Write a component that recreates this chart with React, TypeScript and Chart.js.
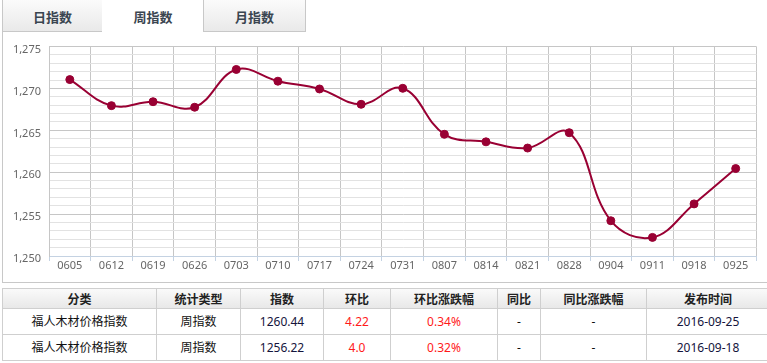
import React, { useEffect, useRef } from "react";
import { Chart, registerables } from "chart.js";

Chart.register(...registerables);

const categories = ["0605","0612","0619","0626","0703","0710","0717","0724","0731","0807","0814","0821","0828","0904","0911","0918","0925"];
const indexValues = [1271.06,1267.95,1268.42,1267.76,1272.27,1270.87,1269.94,1268.11,1270.02,1264.53,1263.63,1262.89,1264.72,1254.21,1252.22,1256.22,1260.44];
const yMin = 1250;
const yMax = 1275;

const tabLabels = ["日指数", "周指数", "月指数"];
const tableHeaders = ["分类", "统计类型", "指数", "环比", "环比涨跌幅", "同比", "同比涨跌幅", "发布时间"];
const rowCategory = ["福人木材价格指数", "福人木材价格指数"];
const rowType = ["周指数", "周指数"];
const rowIndex = ["1260.44", "1256.22"];
const rowChange = ["4.22", "4.0"];
const rowChangePct = ["0.34%", "0.32%"];
const rowYoY = ["-", "-"];
const rowYoYPct = ["-", "-"];
const rowDate = ["2016-09-25", "2016-09-18"];

const colEdges = [2, 157, 241, 324, 391, 498, 541, 647, 770];
const FONT = '"Noto Sans", "Noto Sans CJK SC", sans-serif';
const BORDER = "#cfcfcf";
const LINE = "#990033";

function ChartCanvas() {
  const ref = useRef<HTMLCanvasElement | null>(null);
  useEffect(() => {
    if (!ref.current) return;
    const chart = new Chart(ref.current, {
      type: "line",
      data: {
        labels: categories,
        datasets: [
          {
            data: indexValues,
            borderColor: LINE,
            backgroundColor: LINE,
            borderWidth: 2,
            tension: 0.4,
            pointRadius: 4,
            pointBorderWidth: 1,
            pointBackgroundColor: LINE,
            pointBorderColor: LINE,
            fill: false,
          },
        ],
      },
      options: {
        animation: false,
        responsive: false,
        maintainAspectRatio: false,
        layout: { padding: { top: 10, right: 10.5, left: 0, bottom: 0 } },
        plugins: { legend: { display: false }, tooltip: { enabled: false } },
        scales: {
          x: {
            type: "category",
            offset: true,
            grid: {
              offset: true,
              color: "#c6c6c6",
              drawTicks: true,
              tickLength: 5,
              tickColor: "#c4d2e2",
            },
            border: { color: "#c4d2e2", width: 1 },
            ticks: {
              color: "#666666",
              font: { family: FONT, size: 11 },
              padding: -2,
              maxRotation: 0,
              autoSkip: false,
            },
            afterFit: (s: any) => {
              s.height = 26;
            },
          },
          y: {
            min: yMin,
            max: yMax,
            grid: {
              drawTicks: false,
              color: (ctx: any) =>
                ctx.tick && ctx.tick.value % 5 === 0 ? "#c6c6c6" : "#e2e2e2",
            },
            border: { color: "#c6c6c6", width: 1 },
            ticks: {
              stepSize: 1,
              autoSkip: false,
              padding: 8,
              labelOffset: 3,
              color: "#666666",
              font: { family: FONT, size: 11 },
              callback: (v: any) =>
                Number(v) % 5 === 0 ? Number(v).toLocaleString("en-US") : "",
            },
            afterFit: (s: any) => {
              s.width = 49;
            },
          },
        },
      },
    });
    return () => chart.destroy();
  }, []);
  return (
    <canvas
      ref={ref}
      width={767}
      height={250}
      style={{ position: "absolute", left: 0, top: 32, width: 767, height: 250 }}
    />
  );
}

export default function App() {
  const tabGrad = "linear-gradient(#fbfbfb, #e9e9e9)";
  const tabs = [
    { left: 2, width: 100, active: false },
    { left: 102, width: 101, active: true },
    { left: 203, width: 102, active: false },
  ];
  const rowsTop = [309, 335];
  const rowH = 26;
  const cells: React.ReactNode[] = [];
  // header
  tableHeaders.forEach((h, i) => {
    cells.push(
      <div
        key={"h" + i}
        style={{
          position: "absolute",
          left: colEdges[i],
          top: 288,
          width: colEdges[i + 1] - colEdges[i],
          height: 21,
          boxSizing: "border-box",
          borderTop: `1px solid ${BORDER}`,
          borderLeft: i === 0 ? `1px solid ${BORDER}` : "none",
          borderRight: `1px solid ${BORDER}`,
          borderBottom: `1px solid ${BORDER}`,
          background: "linear-gradient(#fafafa, #e8e8e8)",
          fontFamily: FONT,
          fontWeight: 700,
          fontSize: 12,
          color: "#222",
          textAlign: "center",
          lineHeight: "21px",
        }}
      >
        {h}
      </div>
    );
  });
  const rowData = [rowCategory, rowType, rowIndex, rowChange, rowChangePct, rowYoY, rowYoYPct, rowDate];
  const colColors = ["#111", "#111", "#14143c", "#ff1a1a", "#ff1a1a", "#111", "#111", "#14143c"];
  rowsTop.forEach((top, r) => {
    rowData.forEach((col, i) => {
      cells.push(
        <div
          key={"r" + r + "c" + i}
          style={{
            position: "absolute",
            left: colEdges[i],
            top,
            width: colEdges[i + 1] - colEdges[i],
            height: rowH,
            boxSizing: "border-box",
            borderLeft: i === 0 ? `1px solid ${BORDER}` : "none",
            borderRight: `1px solid ${BORDER}`,
            borderBottom: `1px solid ${BORDER}`,
            background: "#fff",
            fontFamily: FONT,
            fontSize: 12,
            color: colColors[i],
            textAlign: "center",
            lineHeight: "26px",
          }}
        >
          {col[r]}
        </div>
      );
    });
  });

  return (
    <div
      style={{
        position: "absolute",
        left: 0,
        top: 0,
        width: 767,
        height: 363,
        overflow: "hidden",
        background: "#fff",
      }}
    >
      {tabs.map((t, i) => (
        <div
          key={"t" + i}
          style={{
            position: "absolute",
            left: t.left,
            top: -1,
            width: t.width + 1,
            height: 33,
            boxSizing: "border-box",
            border: `1px solid ${t.active ? "transparent" : "#c8c8c8"}`,
            borderBottom: t.active ? "none" : "1px solid #c8c8c8",
            background: t.active ? "#fff" : tabGrad,
            fontFamily: FONT,
            fontWeight: 700,
            fontSize: 13,
            color: "#3a4550",
            textAlign: "center",
            lineHeight: "34px",
          }}
        >
          {tabLabels[i]}
        </div>
      ))}
      {/* chart container border */}
      <div
        style={{
          position: "absolute",
          left: 2,
          top: 31,
          width: 800,
          height: 252,
          boxSizing: "border-box",
          borderLeft: "1px solid #c8c8c8",
          borderBottom: "1px solid #c8c8c8",
        }}
      />
      <ChartCanvas />
      {cells}
    </div>
  );
}
